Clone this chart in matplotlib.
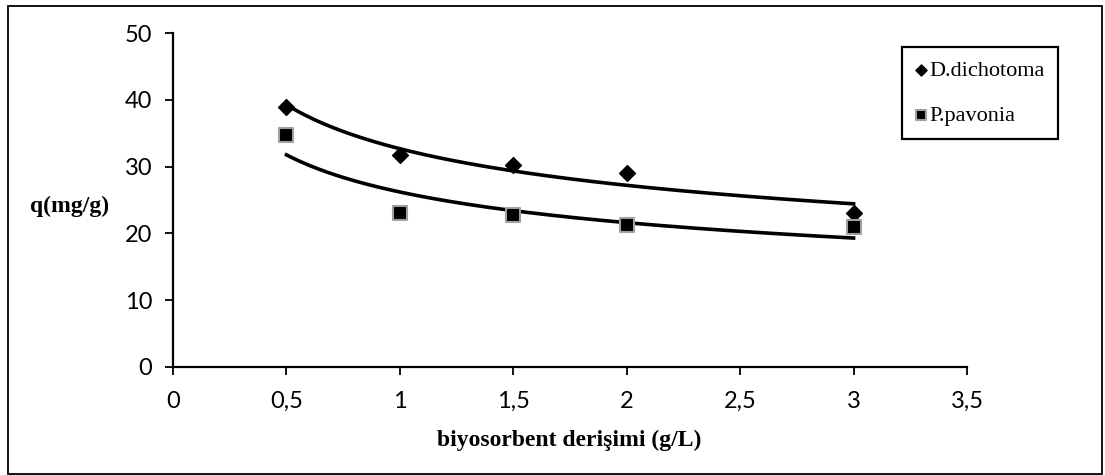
import numpy as np
import matplotlib
matplotlib.use("Agg")
import matplotlib.pyplot as plt
from matplotlib.patches import Rectangle
from matplotlib.ticker import FuncFormatter

# biosorbent dose (g/L) and uptake q (mg/g)
doses = [0.5, 1.0, 1.5, 2.0, 3.0]
q_dichotoma = [38.9, 31.7, 30.3, 29.1, 23.0]
q_pavonia = [34.8, 23.1, 22.8, 21.2, 20.9]
series_names = ["D.dichotoma", "P.pavonia"]

x_ticks = [0, 0.5, 1, 1.5, 2, 2.5, 3, 3.5]
y_ticks = [0, 10, 20, 30, 40, 50]


def power_fit(x, y):
    """least squares fit of y = a * x^b in log-log space"""
    b, ln_a = np.polyfit(np.log(x), np.log(y), 1)
    return np.exp(ln_a), b


plt.rcParams["font.family"] = ["Lato", "DejaVu Sans"]

fig = plt.figure(figsize=(11.05, 4.75), dpi=100)
ax = fig.add_axes([0.1566, 0.2274, 0.7185, 0.7031])

ax.scatter(doses, q_dichotoma, marker="D", s=65, color="black",
           zorder=3, label=series_names[0])
ax.scatter(doses, q_pavonia, marker="s", s=100, color="black",
           edgecolors="#a0a0a0", linewidths=1.5, zorder=3,
           label=series_names[1])

# power trendlines over the measured range
xs = np.linspace(min(doses), max(doses), 200)
for ys in (q_dichotoma, q_pavonia):
    a, b = power_fit(np.array(doses), np.array(ys))
    ax.plot(xs, a * xs ** b, color="black", lw=2.6, zorder=2)

ax.set_xlim(0, 3.5)
ax.set_ylim(0, 50)
ax.set_xticks(x_ticks)
ax.set_yticks(y_ticks)
comma = FuncFormatter(lambda v, p: ("%g" % v).replace(".", ","))
ax.xaxis.set_major_formatter(comma)
ax.yaxis.set_major_formatter(comma)
ax.tick_params(direction="out", length=6, width=1.3, color="black",
               labelsize=17)
ax.tick_params(axis="x", pad=11)
ax.tick_params(axis="y", pad=9)
ax.spines["top"].set_visible(False)
ax.spines["right"].set_visible(False)
for s in ("left", "bottom"):
    ax.spines[s].set_linewidth(1.6)

fig.text(0.027, 0.566, "q(mg/g)", family="Liberation Serif",
         weight="bold", fontsize=17, ha="left", va="center")
fig.text(0.515, 0.073, "biyosorbent derişimi (g/L)", family="Liberation Serif",
         weight="bold", fontsize=17, ha="center", va="center")

leg = fig.legend(loc="upper left", bbox_to_anchor=(902 / 1105, 1 - 47 / 475),
                 prop={"family": "Liberation Serif", "size": 16},
                 markerscale=0.7, handlelength=0.5, handletextpad=0.15,
                 labelspacing=1.1, borderpad=0.6, borderaxespad=0,
                 fancybox=False, edgecolor="black", framealpha=1)
leg.get_frame().set_linewidth(1.6)

# outer chart frame
fig.patches.append(Rectangle((8 / 1105, 0.002), 1094 / 1105, 1 - 6 / 475 - 0.002,
                             transform=fig.transFigure, fill=False,
                             edgecolor="black", lw=1.3))

fig.savefig("out.png", dpi=100)
